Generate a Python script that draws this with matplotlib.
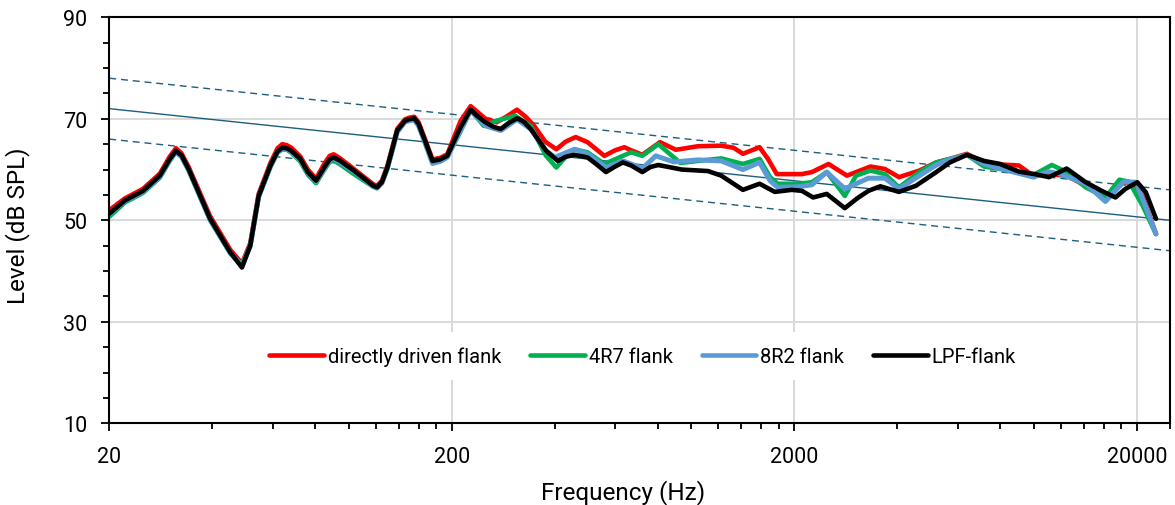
import numpy as np
import matplotlib
matplotlib.use("Agg")
import matplotlib.pyplot as plt
from matplotlib.ticker import FixedLocator, NullFormatter

plt.rcParams['font.family'] = ['Roboto', 'DejaVu Sans']

# shared low-frequency part (all four curves nearly overlap here)
f_low = [20, 22.2, 25.1, 28.1, 30, 31.3, 32.5, 34.1, 39.4, 45.1, 48.8, 51.6, 54.6,
         59.1, 62, 64, 66, 68, 72.2, 76, 80.3, 85, 88, 90.4, 94, 103.6, 112, 118, 121,
         125, 129.7, 138.6, 146, 150, 155.4, 160, 166.4, 175.7, 185, 194]
lpf_low = [51.3, 53.9, 55.8, 58.8, 62.0, 63.7, 62.8, 60.1, 50.3, 43.7, 40.7, 45.0, 54.8,
           60.8, 63.6, 64.3, 64.2, 63.7, 62.1, 59.5, 57.8, 60.5, 62.0, 62.4, 61.8, 59.8,
           58.0, 56.8, 56.5, 57.5, 60.4, 67.7, 69.6, 69.9, 70.1, 69.0, 66.0, 61.7, 62.0, 62.7]
direct_low = [52.0, 54.3, 56.2, 59.2, 62.5, 64.2, 63.2, 60.5, 50.8, 44.2, 41.5, 45.5, 55.2,
              61.3, 64.2, 65.0, 64.8, 64.3, 62.6, 60.0, 58.2, 61.2, 62.7, 63.0, 62.3, 60.1,
              58.3, 57.1, 56.8, 57.8, 60.7, 68.0, 69.9, 70.2, 70.4, 69.3, 66.3, 62.0, 62.3, 63.0]
r47_low = [50.7, 53.5, 55.4, 58.4, 61.7, 63.4, 62.5, 59.8, 50.0, 43.5, 41.2, 45.0, 54.6,
           60.5, 63.3, 64.0, 63.9, 63.3, 61.6, 59.0, 57.3, 60.0, 61.5, 61.8, 61.1, 59.1,
           57.6, 56.6, 56.3, 57.3, 60.2, 67.5, 69.4, 69.7, 69.9, 68.8, 65.8, 61.4, 61.8, 62.5]
r82_low = [51.2, 53.8, 55.6, 58.6, 61.9, 63.5, 62.6, 60.0, 50.2, 43.6, 41.0, 45.0, 54.7,
           60.7, 63.5, 64.2, 64.0, 63.5, 61.9, 59.4, 57.6, 60.3, 61.8, 62.2, 61.5, 59.6,
           57.9, 56.7, 56.4, 57.4, 60.2, 67.4, 69.4, 69.6, 69.8, 68.6, 65.6, 61.2, 61.6, 62.4]

# LPF-flank
f_lpf = [212, 227, 237, 251, 265, 278, 295, 310.6, 325, 340, 377, 408, 430, 456, 498,
         530, 564, 600, 632, 668, 720, 760, 802, 938, 1120, 1224, 1416, 1584, 1754, 1966,
         2106, 2270, 2488, 2810, 3050, 3292, 3566, 4044, 4530, 5196, 5694, 6386, 7164, 7976,
         9058, 10076, 11092, 12484, 14188, 15800, 17330, 18540, 20080, 21260, 22760]
db_lpf = [68.3, 71.8, 70.6, 69.3, 68.4, 68.0, 69.3, 70.1, 69.4, 68.0, 63.7, 61.7, 62.5,
          62.9, 62.4, 61.0, 59.5, 60.6, 61.4, 60.8, 59.5, 60.5, 60.9, 60.0, 59.7, 58.8, 56.0,
          57.2, 55.6, 56.0, 55.8, 54.5, 55.2, 52.4, 54.3, 55.8, 56.7, 55.6, 56.8, 59.5, 61.4,
          62.9, 61.7, 61.1, 59.6, 59.1, 58.5, 60.2, 57.5, 55.8, 54.5, 56.2, 57.5, 55.5, 50.3]

# directly driven flank
f_direct = [212, 227, 251, 270, 290, 310, 330, 348, 375, 404, 430, 460, 498, 558, 600,
            638, 668, 720, 811, 902, 1048, 1224, 1330, 1416, 1584, 1676, 1778, 1966,
            2106, 2252, 2518, 2850, 3340, 3680, 4044, 4640, 5196, 5694, 6386, 7164, 8000,
            9058, 9960, 11000, 12484, 14188, 16200, 17800, 19600, 20800, 22760]
db_direct = [69.5, 72.5, 70.0, 69.3, 70.5, 71.8, 70.3, 68.6, 65.5, 64.0, 65.5, 66.4, 65.4,
             62.7, 63.8, 64.4, 63.8, 62.9, 65.4, 63.9, 64.6, 64.7, 64.3, 63.1, 64.4, 62.1,
             59.1, 59.1, 59.1, 59.5, 61.1, 58.8, 60.6, 60.1, 58.5, 59.8, 61.4, 62.1, 63.1,
             61.4, 61.0, 60.8, 58.8, 59.1, 58.8, 56.8, 54.3, 57.5, 57.4, 54.8, 47.3]

# 4R7 flank
f_r47 = [212, 227, 248, 270, 306, 340, 377, 404, 430, 456, 498, 558, 632, 668, 720, 802,
         930, 1048, 1224, 1416, 1584, 1700, 1790, 2050, 2252, 2488, 2810, 3030, 3340,
         3680, 4044, 4640, 5196, 5694, 6386, 7164, 8200, 9900, 11300, 12484, 14188,
         16200, 17800, 19000, 20800, 22760]
db_r47 = [67.5, 71.8, 68.6, 69.6, 70.6, 68.6, 62.7, 60.4, 62.5, 64.0, 63.4, 61.1, 62.7,
          63.4, 62.7, 65.0, 61.3, 61.7, 62.2, 61.1, 62.1, 58.5, 57.2, 57.2, 57.5, 59.5,
          54.8, 58.8, 59.8, 59.1, 56.5, 59.5, 61.4, 62.1, 62.9, 60.6, 60.0, 58.8, 60.9,
          59.5, 56.5, 54.5, 58.0, 57.6, 52.9, 47.3]

# 8R2 flank
f_r82 = [212, 227, 251, 278, 310, 340, 377, 400, 456, 498, 564, 632, 668, 720, 788, 890,
         1048, 1224, 1416, 1584, 1700, 1790, 2050, 2252, 2488, 2810, 3292, 3680, 4044,
         4640, 5196, 5694, 6386, 7164, 8200, 10000, 11000, 12000, 14188, 16200, 18300,
         19900, 21260, 22760]
db_r82 = [67.7, 71.6, 68.6, 67.7, 69.9, 68.0, 63.7, 62.4, 64.0, 63.1, 60.4, 61.7, 61.1,
          60.2, 62.7, 61.5, 61.9, 61.7, 60.0, 61.4, 57.8, 56.5, 56.6, 57.0, 59.5, 56.2,
          58.3, 58.3, 56.2, 58.8, 60.9, 62.0, 62.9, 61.1, 60.0, 58.5, 59.6, 59.1, 57.2,
          53.7, 57.6, 57.5, 52.6, 47.3]

# trend line and +/- band
trend_f = [20, 25000]
trend_db = [72, 50]
upper_db = [78, 56]
lower_db = [66, 44]

fig = plt.figure(figsize=(11.75, 5.06), dpi=100)
ax = fig.add_axes([0.0930, 0.1615, 0.9027, 0.8023])

xmin, xmax = 20, 25000
for v in (30, 50, 70):
    ax.axhline(v, color='#d9d9d9', lw=1.4, zorder=0)
for v in (200, 2000, 20000):
    ax.axvline(v, color='#d9d9d9', lw=1.4, zorder=0)

tcol = '#1b5e80'
ax.plot(trend_f, trend_db, color=tcol, lw=1.0, zorder=1)
ax.plot(trend_f, upper_db, color=tcol, lw=1.0, ls=(0, (5, 3.5)), zorder=1)
ax.plot(trend_f, lower_db, color=tcol, lw=1.0, ls=(0, (5, 3.5)), zorder=1)

kw = dict(solid_joinstyle='round', solid_capstyle='round', zorder=2)
ax.plot(f_low + f_direct, direct_low + db_direct, color='#ff0000', lw=3.3,
        label='directly driven flank', **kw)
ax.plot(f_low + f_r47, r47_low + db_r47, color='#00b050', lw=3.3,
        label='4R7 flank', **kw)
ax.plot(f_low + f_r82, r82_low + db_r82, color='#5b9bd5', lw=3.6,
        label='8R2 flank', **kw)
ax.plot(f_low + f_lpf, lpf_low + db_lpf, color='#000000', lw=3.3,
        label='LPF-flank', **kw)

ax.set_xscale('log')
ax.set_xlim(xmin, xmax)
ax.set_ylim(10, 90)

ax.xaxis.set_major_locator(FixedLocator([20, 200, 2000, 20000]))
ax.set_xticklabels(['20', '200', '2000', '20000'])
minor_x = [d * m for d in (10, 100, 1000) for m in range(4, 20, 2)] + [xmax]
ax.xaxis.set_minor_locator(FixedLocator(minor_x))
ax.xaxis.set_minor_formatter(NullFormatter())
ax.yaxis.set_major_locator(FixedLocator([10, 30, 50, 70, 90]))
ax.yaxis.set_minor_locator(FixedLocator(list(range(15, 90, 5))))

for s in ax.spines.values():
    s.set_linewidth(1.5)
    s.set_color('black')
ax.tick_params(which='major', length=6, width=1.3, labelsize=15.5, colors='black')
ax.tick_params(which='minor', length=4, width=1.3)
ax.tick_params(axis='y', which='major', pad=10)
ax.tick_params(axis='x', which='major', pad=10)

ax.set_xlabel('Frequency (Hz)', fontsize=17.5)
ax.set_ylabel('Level (dB SPL)', fontsize=17.5)
ax.xaxis.set_label_coords(0.484, -0.138)
ax.yaxis.set_label_coords(-0.0745, 0.49)

leg = ax.legend(loc='center', bbox_to_anchor=(0.503, 0.166), ncol=4, fontsize=14.5,
                frameon=True, framealpha=1, facecolor='white', edgecolor='none',
                handlelength=2.7, handletextpad=0.2, columnspacing=1.45,
                borderpad=0.7)
for h in leg.get_lines():
    h.set_linewidth(3.3)

fig.savefig('out.png', dpi=100)
